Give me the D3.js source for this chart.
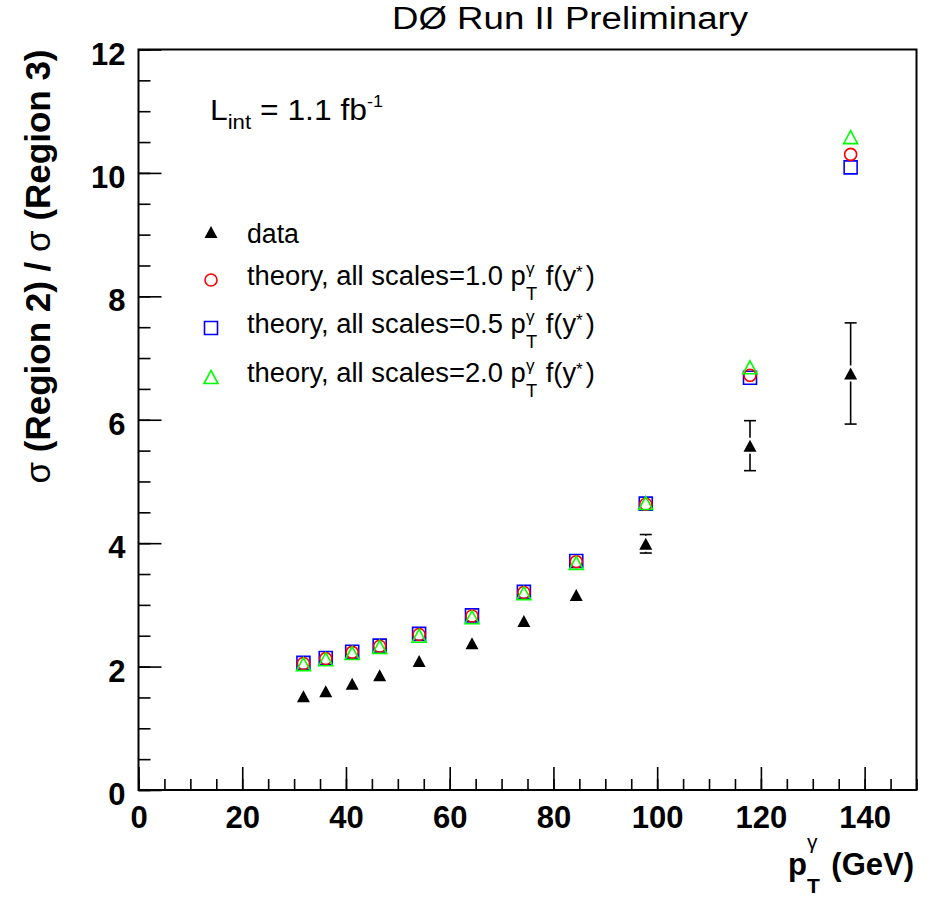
<!DOCTYPE html>
<head>
<meta charset="utf-8">
<style>
body { margin: 0; background: #fff; }
svg { display: block; font-family: 'Liberation Sans', Arial, Helvetica, sans-serif; }
text { white-space: pre; }
.axis .domain { display: none; }
.axis line { stroke: #000; stroke-width: 1.6px; }
.axis text { font-size: 31px; font-weight: bold; fill: #000; font-family: 'Liberation Sans', Arial, sans-serif; }
.frame { fill: none; stroke: #000; stroke-width: 2px; }
.err { stroke: #000; stroke-width: 1.6px; }
</style>
<script src="https://cdn.jsdelivr.net/npm/d3@7"></script>
</head>
<body>
<svg width="928" height="898"></svg>
<script>

// photon pT bin centres (GeV)
var ptBins   = [31.8, 36.1, 41.2, 46.5, 54.1, 64.3, 74.3, 84.4, 97.8, 117.9, 137.3];
// data: sigma(region 2) / sigma(region 3)
var dataRatio = [1.52, 1.60, 1.72, 1.86, 2.09, 2.38, 2.74, 3.16, 3.99, 5.58, 6.75];
var dataErr   = [0.03, 0.03, 0.04, 0.04, 0.05, 0.06, 0.07, 0.09, 0.15, 0.405, 0.82];
// theory curves for three scale choices
var theory10 = [2.05, 2.13, 2.23, 2.33, 2.52, 2.82, 3.20, 3.70, 4.63, 6.72, 10.30];
var theory05 = [2.06, 2.14, 2.24, 2.34, 2.53, 2.83, 3.21, 3.71, 4.64, 6.68, 10.09];
var theory20 = [2.04, 2.12, 2.22, 2.32, 2.50, 2.80, 3.19, 3.68, 4.65, 6.85, 10.58];

var xTicks = [0, 20, 40, 60, 80, 100, 120, 140];
var yTicks = [0, 2, 4, 6, 8, 10, 12];

var svg = d3.select("svg");

var x = d3.scaleLinear().domain([0, 150]).range([138.5, 916.5]);
var y = d3.scaleLinear().domain([0, 12]).range([790, 49.5]);

// marker shapes (ROOT style)
function tri(s) { return "M0," + (-s) + "L" + (s + 0.5) + "," + s + "L" + (-s - 0.5) + "," + s + "Z"; }
function sq(s) { return "M" + (-s) + "," + (-s) + "H" + s + "V" + s + "H" + (-s) + "Z"; }

// axes: minor ticks then major ticks with labels, pointing inward
svg.append("g")
    .attr("class", "axis")
    .attr("transform", "translate(0,790)")
    .call(d3.axisBottom(x).tickValues(d3.range(0, 151, 5)).tickSize(-11).tickFormat(""));
svg.append("g")
    .attr("class", "axis")
    .attr("transform", "translate(0,790)")
    .call(d3.axisBottom(x).tickValues(xTicks).tickSize(-23).tickPadding(16));

svg.append("g")
    .attr("class", "axis")
    .attr("transform", "translate(138.5,0)")
    .call(d3.axisLeft(y).tickValues(d3.range(0, 12.01, 0.5)).tickSize(-12).tickFormat(""));
var yAx = svg.append("g")
    .attr("class", "axis")
    .attr("transform", "translate(138.5,0)")
    .call(d3.axisLeft(y).tickValues(yTicks).tickSize(-23).tickPadding(13));
yAx.selectAll("text").attr("dy", "0.47em");

svg.append("rect")
    .attr("class", "frame")
    .attr("x", x(0)).attr("y", y(12))
    .attr("width", x(150) - x(0)).attr("height", y(0) - y(12));

// rich text helper: plain runs plus stacked super/subscripts
function rich(parent, x0, y0, parts, o) {
  var g = parent.append("g"), cx = x0;
  parts.forEach(function(p) {
    if (p.t != null) {
      var t = g.append("text").attr("x", cx).attr("y", y0)
          .attr("font-size", o.size).attr("font-weight", p.w || o.weight || "normal").text(p.t);
      cx += t.node().getComputedTextLength();
    } else {
      var w = 0, t;
      if (p.sup) {
        t = g.append("text").attr("x", cx).attr("y", y0 + (p.supDy != null ? p.supDy : o.supDy))
            .attr("font-size", p.supSize || o.supSize).attr("font-weight", p.supW || "normal").text(p.sup);
        w = Math.max(w, t.node().getComputedTextLength());
      }
      if (p.sub) {
        t = g.append("text").attr("x", cx).attr("y", y0 + o.subDy)
            .attr("font-size", o.subSize).attr("font-weight", p.subW || "normal").text(p.sub);
        w = Math.max(w, t.node().getComputedTextLength());
      }
      cx += w + (p.pad || 0);
    }
  });
  return { g: g, width: cx - x0 };
}

function stretch(r, x0, target) {
  r.g.attr("transform", "translate(" + x0 + ",0) scale(" + (target / r.width) + ",1) translate(" + (-x0) + ",0)");
}

// title
svg.append("text")
    .attr("x", 392).attr("y", 29)
    .attr("font-size", 31)
    .attr("textLength", 356).attr("lengthAdjust", "spacingAndGlyphs")
    .text("DØ Run II Preliminary");

// luminosity label
var lum = rich(svg, 210, 120, [
  { t: "L" },
  { sub: "int" },
  { t: " = 1.1 fb" },
  { sup: "-1" }
], { size: 30, supSize: 17, subSize: 21, supDy: -13, subDy: 9 });
stretch(lum, 210, 173);

// x-axis title, right aligned
var xt = rich(svg, 0, 875, [
  { t: "p", w: "bold" },
  { sup: "γ", sub: "T", subW: "bold", pad: 3 },
  { t: " (GeV)", w: "bold" }
], { size: 31, supSize: 21, subSize: 21, supDy: -26, subDy: 18 });
xt.g.attr("transform", "translate(" + (914 - xt.width) + ",0)");

// y-axis title
var yt = svg.append("text")
    .attr("transform", "translate(50,49.5) rotate(-90)")
    .attr("text-anchor", "end")
    .attr("font-size", 35);
yt.append("tspan").text("σ");
yt.append("tspan").attr("font-weight", "bold").text(" (Region 2) / ");
yt.append("tspan").text("σ");
yt.append("tspan").attr("font-weight", "bold").text(" (Region 3)");

// theory markers: squares, circles, triangles
var pts = ptBins.map(function(p, i) {
  return { pt: p, d: dataRatio[i], e: dataErr[i], t05: theory05[i], t10: theory10[i], t20: theory20[i] };
});

svg.append("g").selectAll("path").data(pts).enter().append("path")
    .attr("d", sq(6.5))
    .attr("transform", function(d) { return "translate(" + x(d.pt) + "," + y(d.t05) + ")"; })
    .attr("fill", "none").attr("stroke", "#0000ff").attr("stroke-width", 1.6);

svg.append("g").selectAll("circle").data(pts).enter().append("circle")
    .attr("cx", function(d) { return x(d.pt); })
    .attr("cy", function(d) { return y(d.t10); })
    .attr("r", 6)
    .attr("fill", "none").attr("stroke", "#ff0000").attr("stroke-width", 1.6);

svg.append("g").selectAll("path").data(pts).enter().append("path")
    .attr("d", tri(6.5))
    .attr("transform", function(d) { return "translate(" + x(d.pt) + "," + y(d.t20) + ")"; })
    .attr("fill", "none").attr("stroke", "#00ff00").attr("stroke-width", 1.6);

// data error bars (drawn outside the marker only)
var eg = svg.append("g");
pts.forEach(function(d) {
  var cx = x(d.pt), cy = y(d.d), top = y(d.d + d.e), bot = y(d.d - d.e);
  if (cy - top > 8) {
    eg.append("line").attr("class", "err").attr("x1", cx).attr("x2", cx).attr("y1", top).attr("y2", cy - 8);
    eg.append("line").attr("class", "err").attr("x1", cx).attr("x2", cx).attr("y1", cy + 8).attr("y2", bot);
  }
  if (cy - top > 6) {
    eg.append("line").attr("class", "err").attr("x1", cx - 6).attr("x2", cx + 6).attr("y1", top).attr("y2", top);
    eg.append("line").attr("class", "err").attr("x1", cx - 6).attr("x2", cx + 6).attr("y1", bot).attr("y2", bot);
  }
});

svg.append("g").selectAll("path").data(pts).enter().append("path")
    .attr("d", tri(6))
    .attr("transform", function(d) { return "translate(" + x(d.pt) + "," + y(d.d) + ")"; })
    .attr("fill", "#000");

// legend
var legendRows = [
  { label: "data", y: 232, tb: 243, scale: null },
  { label: "theory, all scales=1.0 p", y: 280, tb: 285, scale: "1.0" },
  { label: "theory, all scales=0.5 p", y: 328, tb: 333, scale: "0.5" },
  { label: "theory, all scales=2.0 p", y: 377, tb: 382, scale: "2.0" }
];
var lg = svg.append("g");
legendRows.forEach(function(r, i) {
  if (i === 0) lg.append("path").attr("d", tri(6)).attr("transform", "translate(211," + r.y + ")").attr("fill", "#000");
  if (i === 1) lg.append("circle").attr("cx", 211).attr("cy", r.y).attr("r", 6).attr("fill", "none").attr("stroke", "#ff0000").attr("stroke-width", 1.6);
  if (i === 2) lg.append("path").attr("d", sq(6.5)).attr("transform", "translate(211," + r.y + ")").attr("fill", "none").attr("stroke", "#0000ff").attr("stroke-width", 1.6);
  if (i === 3) lg.append("path").attr("d", tri(6.5)).attr("transform", "translate(211," + r.y + ")").attr("fill", "none").attr("stroke", "#00ff00").attr("stroke-width", 1.6);
  var parts = [{ t: r.label }];
  if (r.scale) parts = parts.concat([
    { sup: "γ", sub: "T", pad: 1 },
    { t: " f(y" },
    { sup: "*", supDy: -7, pad: 3 },
    { t: ")" }
  ]);
  var rt = rich(lg, 247, r.tb, parts, { size: 27, supSize: 17, subSize: 18, supDy: -11, subDy: 15 });
  stretch(rt, 247, r.scale ? 348 : 52);
});

</script>
</body>
</html>
